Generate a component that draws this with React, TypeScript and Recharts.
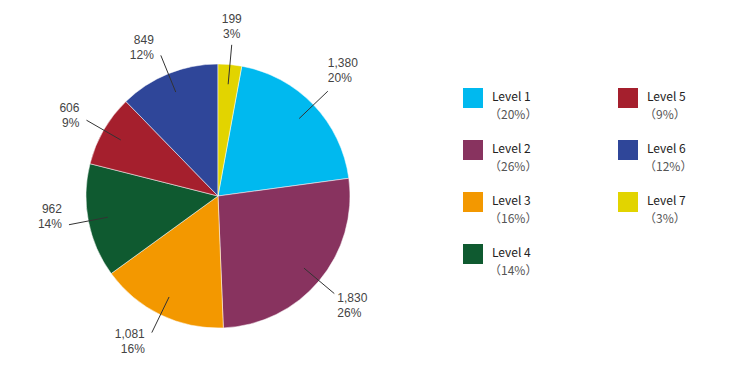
import { Legend, Pie, PieChart, Cell } from 'recharts';

const levels = ['Level 1', 'Level 2', 'Level 3', 'Level 4', 'Level 5', 'Level 6', 'Level 7'];
const counts = [1380, 1830, 1081, 962, 606, 849, 199];
const colors = ['#00b9ef', '#88335f', '#f39800', '#0f5a30', '#a51f2d', '#2f4699', '#e2d400'];

const data = levels.map((name, i) => ({ name, value: counts[i] }));
const total = counts.reduce((a, b) => a + b, 0);
const pct = (v: number) => Math.round((v / total) * 100);

// the last slice sits just right of 12 o'clock, so the first one starts after it
const startAngle = 90 - (360 * counts[counts.length - 1]) / total;

const RAD = Math.PI / 180;
const blockH = 30;

const renderLabel = (p: any) => {
  const { cx, cy, midAngle, outerRadius, value } = p;
  const dx = Math.cos(-midAngle * RAD);
  const dy = Math.sin(-midAngle * RAD);
  const x1 = cx + outerRadius * 0.85 * dx;
  const y1 = cy + outerRadius * 0.85 * dy;
  const x2 = cx + outerRadius * 1.15 * dx;
  const y2 = cy + outerRadius * 1.15 * dy;

  let anchor: 'start' | 'middle' | 'end';
  let tx: number;
  let top: number;
  if (Math.abs(dx) < 0.3) {
    anchor = 'middle';
    tx = x2;
    top = dy < 0 ? y2 - blockH - 3 : y2 + 3;
  } else if (dx > 0) {
    anchor = 'start';
    tx = x2 + (dy < 0 ? 0 : 3);
    top = dy < 0 ? y2 - blockH - 5 : y2 - 3;
  } else {
    anchor = 'end';
    tx = x2 - 7;
    top = dy < 0 ? y2 - blockH / 2 + dy * blockH * 0.25 : y2 - blockH / 2 + dy * 24 - 12;
  }
  return (
    <g>
      <line x1={x1} y1={y1} x2={x2} y2={y2} stroke="#333" strokeWidth={1} />
      <text x={tx} y={top + 11} textAnchor={anchor} fontSize={12} fill="#444" fontFamily="'Liberation Sans', Arial, sans-serif">
        <tspan x={tx}>{value.toLocaleString('en-US')}</tspan>
        <tspan x={tx} dy={15}>{pct(value)}%</tspan>
      </text>
    </g>
  );
};

const renderLegend = () => (
  <div style={{ display: 'grid', gridTemplateColumns: '155px 120px', rowGap: 17, fontFamily: "'Noto Sans CJK SC', 'Noto Sans', sans-serif" }}>
    {[0, 4, 1, 5, 2, 6, 3].map((i) => (
      <div key={levels[i]} style={{ display: 'flex', alignItems: 'flex-start' }}>
        <div style={{ width: 20, height: 20, background: colors[i], marginTop: 1, marginRight: 9 }} />
        <div style={{ lineHeight: '17.5px' }}>
          <div style={{ fontSize: 12, color: '#222', fontWeight: 400 }}>{levels[i]}</div>
          <div style={{ fontSize: 12, color: '#555', marginLeft: -3 }}>（{pct(counts[i])}%）</div>
        </div>
      </div>
    ))}
  </div>
);

export default function App() {
  return (
    <div style={{ position: 'absolute', left: 0, top: 0, width: 750, height: 377, background: '#fff' }}>
      <PieChart width={750} height={377} margin={{ top: 0, right: 0, bottom: 0, left: 0 }}>
        <Pie
          data={data}
          dataKey="value"
          nameKey="name"
          cx={218}
          cy={196}
          outerRadius={132}
          startAngle={startAngle}
          endAngle={startAngle - 360}
          label={renderLabel}
          labelLine={false}
          stroke="#fff"
          strokeWidth={0.5}
          isAnimationActive={false}
        >
          {data.map((d, i) => (
            <Cell key={d.name} fill={colors[i]} />
          ))}
        </Pie>
        <Legend content={renderLegend} wrapperStyle={{ left: 463, top: 87, width: 290 }} />
      </PieChart>
    </div>
  );
}
